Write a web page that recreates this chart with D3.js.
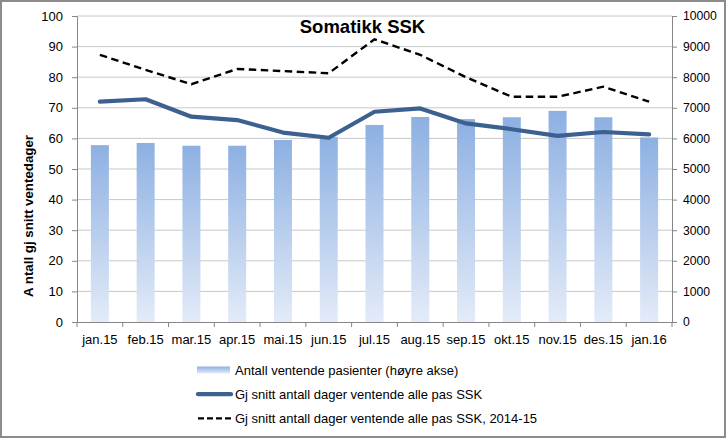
<!DOCTYPE html>
<html><head><meta charset="utf-8">
<script src="https://cdn.jsdelivr.net/npm/d3@7"></script>
<style>body{margin:0;background:#fff}svg{display:block}text{font-family:"Liberation Sans",Arial,sans-serif}</style>
</head><body><svg id="c" width="726" height="438"></svg>
<script>
const categories=["jan.15","feb.15","mar.15","apr.15","mai.15","jun.15","jul.15","aug.15","sep.15","okt.15","nov.15","des.15","jan.16"];
const patients=[5780,5850,5760,5760,5950,6050,6440,6700,6630,6690,6900,6690,6030];
const avgDays=[72,72.8,67.1,66,61.9,60.2,68.7,69.8,64.9,63,60.8,62.1,61.3];
const avgDays1415=[87.3,82.4,77.7,82.7,82,81.3,92.4,87.3,80,73.6,73.6,76.9,72];
const leftTicks=[0,10,20,30,40,50,60,70,80,90,100];
const rightTicks=[0,1000,2000,3000,4000,5000,6000,7000,8000,9000,10000];

const svg=d3.select("#c");
svg.append("rect").attr("x",1).attr("y",1).attr("width",724).attr("height",436).attr("fill","#fff").attr("stroke","#8c8c8c").attr("stroke-width",2);
const L=77,R=672,T=16,B=322;
const x=d3.scaleBand().domain(categories).range([L,R]);
const yL=d3.scaleLinear().domain([0,100]).range([B,T]);
const yR=d3.scaleLinear().domain([0,10000]).range([B,T]);

const defs=svg.append("defs");
["bg","lg"].forEach(id=>{
 const g=defs.append("linearGradient").attr("id",id).attr("x1",0).attr("y1",0).attr("x2",0).attr("y2",1);
 g.append("stop").attr("offset","0%").attr("stop-color","#8db0e2");
 g.append("stop").attr("offset","100%").attr("stop-color","#e3ebf8");
});

// gridlines
svg.append("g").selectAll("line").data(leftTicks.slice(1)).join("line")
 .attr("x1",L).attr("x2",R).attr("y1",d=>yL(d)).attr("y2",d=>yL(d)).attr("stroke","#c8c8c8").attr("stroke-width",1);

// bars
const bw=18;
svg.append("g").selectAll("rect").data(patients).join("rect")
 .attr("x",(d,i)=>x(categories[i])+x.bandwidth()/2-bw/2).attr("width",bw)
 .attr("y",d=>yR(d)).attr("height",d=>B-yR(d)).attr("fill","url(#bg)");

// axes
const axL=svg.append("g").attr("transform",`translate(${L},0)`).call(d3.axisLeft(yL).tickValues(leftTicks).tickSize(5).tickPadding(9));
const axR=svg.append("g").attr("transform",`translate(${R},0)`).call(d3.axisRight(yR).tickValues(rightTicks).tickFormat(d3.format("d")).tickSize(5).tickPadding(6));
const axB=svg.append("g").attr("transform",`translate(0,${B})`).call(d3.axisBottom(x).tickSize(0).tickPadding(13));
svg.append("g").selectAll("line").data(categories.concat([null])).join("line")
 .attr("x1",(d,i)=>L+i*x.step()).attr("x2",(d,i)=>L+i*x.step()).attr("y1",B).attr("y2",B+5).attr("stroke","#868686");
[axL,axR,axB].forEach(a=>{a.select(".domain").attr("stroke","#868686");a.selectAll(".tick line").attr("stroke","#868686");a.selectAll("text").attr("fill","#000");});
axB.selectAll("text").style("font-size","13px");
axR.selectAll("text").style("font-size","12.2px");
axL.selectAll("text").style("font-size","13px");

// lines
const line=d3.line().x((d,i)=>x(categories[i])+x.bandwidth()/2).y(d=>yL(d));
svg.append("path").datum(avgDays1415).attr("d",line).attr("fill","none").attr("stroke","#000").attr("stroke-width",2.4).attr("stroke-dasharray","7.5,4.5");
svg.append("path").datum(avgDays).attr("d",line).attr("fill","none").attr("stroke","#3c6190").attr("stroke-width",4.2).attr("stroke-linejoin","round").attr("stroke-linecap","round");

// title
svg.append("text").attr("x",362.5).attr("y",32.5).attr("text-anchor","middle").style("font-weight","bold").style("font-size","18.5px").text("Somatikk SSK");
// y title
svg.append("text").attr("transform","translate(33,216) rotate(-90)").attr("text-anchor","middle").style("font-weight","bold").style("font-size","13.3px").text("A ntall gj snitt ventedager");

// legend
const lg=svg.append("g");
const items=[{t:"Antall ventende pasienter (høyre akse)",k:"bar"},{t:"Gj snitt antall dager ventende alle pas SSK",k:"solid"},{t:"Gj snitt antall dager ventende alle pas SSK, 2014-15",k:"dash"}];
items.forEach((it,i)=>{
 const yy=370+i*24.2;
 if(it.k==="bar") lg.append("rect").attr("x",197).attr("y",yy-3.5).attr("width",33).attr("height",7).attr("fill","url(#lg)");
 else if(it.k==="solid") lg.append("line").attr("x1",198).attr("x2",231).attr("y1",yy).attr("y2",yy).attr("stroke","#3c6190").attr("stroke-width",4.2).attr("stroke-linecap","round");
 else lg.append("line").attr("x1",198).attr("x2",232).attr("y1",yy).attr("y2",yy).attr("stroke","#000").attr("stroke-width",2.4).attr("stroke-dasharray","6,3");
 lg.append("text").attr("x",235).attr("y",yy+4.5).style("font-size","13px").text(it.t);
});
</script></body></html>
